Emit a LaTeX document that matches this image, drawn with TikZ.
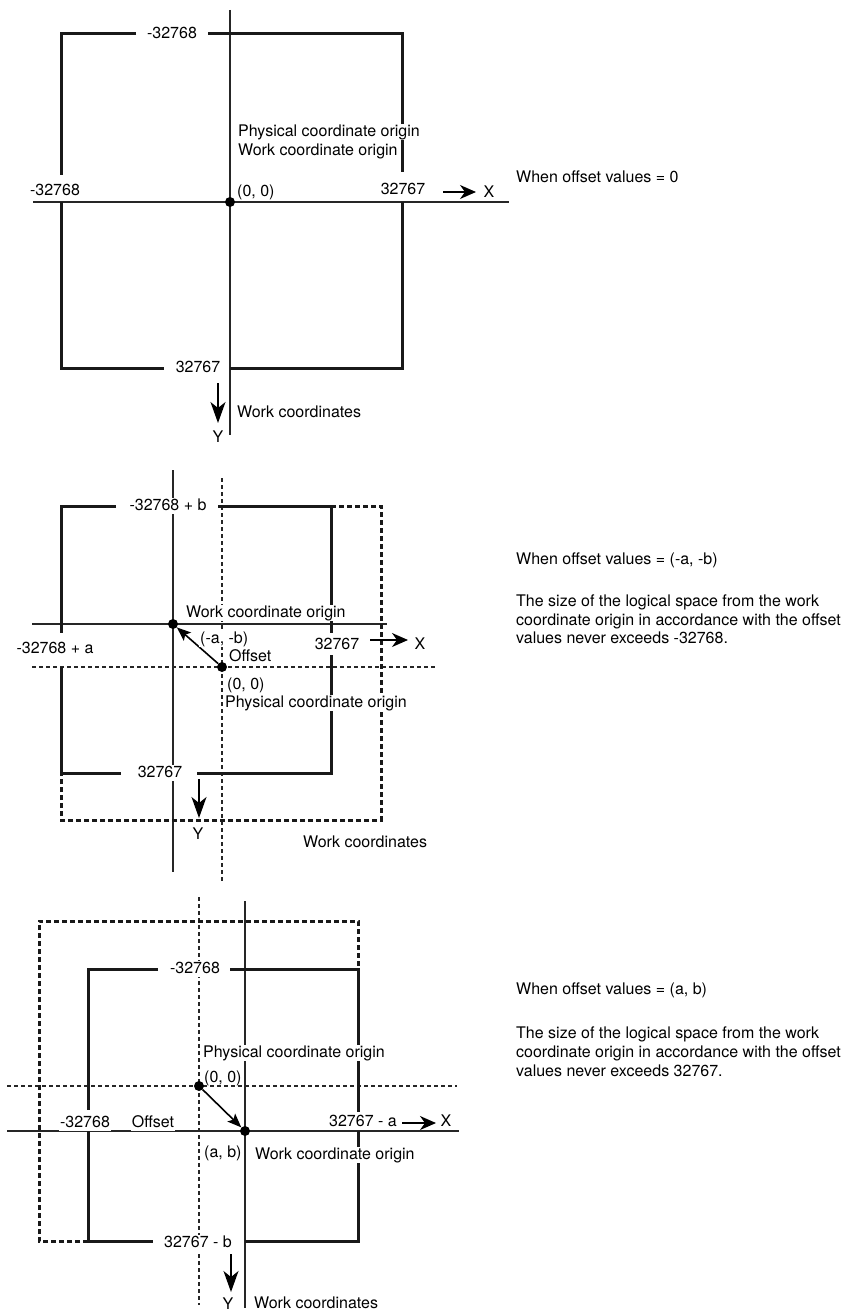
\documentclass[tikz,border=0pt]{standalone}
\usepackage{fontspec}
\setmainfont{TeX Gyre Heros}
\usetikzlibrary{arrows.meta}
\begin{document}
\begin{tikzpicture}[x=1pt,y=-1pt,font=\fontsize{16}{19}\selectfont,
  axis/.style={line width=1.3pt,draw=black!85},
  physaxis/.style={line width=1.1pt,draw=black!85,dash pattern=on 4pt off 3pt},
  frame/.style={line width=3pt,draw=black!90},
  dashframe/.style={line width=3pt,draw=black!90,dash pattern=on 5pt off 3pt},
  lbl/.style={inner sep=1pt,text height=12pt,text depth=2.5pt,fill=white},
  origin/.style={circle,fill=black,inner sep=0pt,minimum size=10pt},
  xarrow/.style={line width=1.4pt,-{Stealth[length=16pt,width=14pt,inset=5pt]}},
  yarrow/.style={line width=1.4pt,-{Stealth[length=21pt,width=15pt,inset=6pt]}},
  offarrow/.style={line width=1.6pt,-{Stealth[length=14pt,width=11pt,inset=3pt]}}]

  \useasboundingbox (0,0) rectangle (845,1314);

  % Offset values = 0
  \draw[axis] (230,10) -- (230,435);
  \draw[axis] (33,202) -- (509,202);
  \draw[frame] (136,34) -- (61,34) -- (61,175);
  \draw[frame] (208,34) -- (402,34) -- (402,172);
  \draw[frame] (61,202) -- (61,368) -- (164,368);
  \draw[frame] (230,368) -- (402,368) -- (402,202);
  \node[origin] (tw) at (230,202) {};
  \node[lbl] (ttop) at (172,34) {-32768};
  \node[lbl] (tleft) at (55,191) {-32768};
  \node[lbl] (tright) at (403,190) {32767};
  \node[lbl] (tbot) at (198,368) {32767};
  \node[lbl,anchor=west] (tzero) at (236,192) {(0, 0)};
  \node[lbl,anchor=west] (tphys) at (237,132) {Physical coordinate origin};
  \node[lbl,anchor=west] (twork) at (237,151) {Work coordinate origin};
  \node[lbl] (tx) at (489,193) {X};
  \node[lbl] (ty) at (218,438) {Y};
  \node[lbl,anchor=west] (tcoord) at (236,413) {Work coordinates};
  \coordinate (txs) at (443,192);
  \coordinate (txe) at (476,192);
  \draw[xarrow] (txs) -- (txe);
  \coordinate (tys) at (218,383);
  \coordinate (tye) at (218,423);
  \draw[yarrow] (tys) -- (tye);
  \node[lbl,anchor=west] (tnote) at (515,178) {When offset values = 0};

  % Offset values = (-a, -b)
  \draw[axis] (173,470) -- (173,872);
  \draw[physaxis] (222,478) -- (222,883);
  \draw[axis] (32,624) -- (387,624);
  \draw[physaxis] (32,667) -- (435,667);
  \draw[dashframe] (331,506) -- (381,506) -- (381,820) -- (61,820) -- (61,773);
  \draw[frame] (116,506) -- (61,506) -- (61,633);
  \draw[frame] (218,506) -- (331,506) -- (331,633);
  \draw[frame] (61,667) -- (61,773) -- (121,773);
  \draw[frame] (197,773) -- (331,773) -- (331,655);
  \node[origin] (mw) at (173,624) {};
  \node[origin] (mp) at (222,667) {};
  \draw[offarrow] (mp) -- (mw);
  \node[lbl] (mtop) at (168,506) {-32768 + b};
  \node[lbl] (mleft) at (55,649) {-32768 + a};
  \node[lbl] (mright) at (337,645) {32767};
  \node[lbl] (mbot) at (160,773) {32767};
  \node[lbl,anchor=west] (mwork) at (185,613) {Work coordinate origin};
  \node[lbl,anchor=west] (mab) at (199,639) {(-a, -b)};
  \node[lbl,anchor=west] (moff) at (228,657) {Offset};
  \node[lbl,anchor=west] (mzero) at (226,685) {(0, 0)};
  \node[lbl,anchor=west] (mphys) at (224,703) {Physical coordinate origin};
  \node[lbl] (mx) at (420,645) {X};
  \node[lbl] (my) at (198,835) {Y};
  \node[lbl,anchor=west] (mcoord) at (302,843) {Work coordinates};
  \coordinate (mxs) at (370,640);
  \coordinate (mxe) at (408,640);
  \draw[xarrow] (mxs) -- (mxe);
  \coordinate (mys) at (199,779);
  \coordinate (mye) at (199,818);
  \draw[yarrow] (mys) -- (mye);
  \node[lbl,anchor=west] (mnote) at (515,560) {When offset values = (-a, -b)};
  \node[lbl,anchor=west] (mtxta) at (515,602) {The size of the logical space from the work};
  \node[lbl,anchor=west] (mtxtb) at (515,621) {coordinate origin in accordance with the offset};
  \node[lbl,anchor=west] (mtxtc) at (515,639) {values never exceeds -32768.};

  % Offset values = (a, b)
  \draw[physaxis] (199,897) -- (199,1305);
  \draw[axis] (245,901) -- (245,1308);
  \draw[physaxis] (7,1086) -- (457,1086);
  \draw[axis] (7,1131) -- (459,1131);
  \draw[dashframe] (88,1241) -- (39,1241) -- (39,921) -- (358,921) -- (358,969);
  \draw[frame] (158,969) -- (88,969) -- (88,1110);
  \draw[frame] (230,969) -- (358,969) -- (358,1112);
  \draw[frame] (88,1131) -- (88,1241) -- (153,1241);
  \draw[frame] (245,1241) -- (358,1241) -- (358,1131);
  \node[origin] (bp) at (199,1086) {};
  \node[origin] (bw) at (245,1131) {};
  \draw[offarrow] (bp) -- (bw);
  \node[lbl] (btop) at (195,969) {-32768};
  \node[lbl] (bleft) at (85,1123) {-32768};
  \node[lbl] (boff) at (153,1123) {Offset};
  \node[lbl] (bright) at (363,1122) {32767 - a};
  \node[lbl] (bbot) at (198,1243) {32767 - b};
  \node[lbl,anchor=west] (bphys) at (202,1053) {Physical coordinate origin};
  \node[lbl,anchor=west,fill=none] (bzero) at (203,1078) {(0, 0)};
  \node[lbl,anchor=west] (bab) at (203,1153) {(a, b)};
  \node[lbl,anchor=west] (bwork) at (254,1155) {Work coordinate origin};
  \node[lbl] (bx) at (446,1122) {X};
  \node[lbl] (by) at (228,1305) {Y};
  \node[lbl,anchor=west] (bcoord) at (253,1304) {Work coordinates};
  \coordinate (bxs) at (402,1123);
  \coordinate (bxe) at (436,1123);
  \draw[xarrow] (bxs) -- (bxe);
  \coordinate (bys) at (231,1254);
  \coordinate (bye) at (231,1292);
  \draw[yarrow] (bys) -- (bye);
  \node[lbl,anchor=west] (bnote) at (515,990) {When offset values = (a, b)};
  \node[lbl,anchor=west] (btxta) at (515,1034) {The size of the logical space from the work};
  \node[lbl,anchor=west] (btxtb) at (515,1053) {coordinate origin in accordance with the offset};
  \node[lbl,anchor=west] (btxtc) at (515,1072) {values never exceeds 32767.};
\end{tikzpicture}
\end{document}
